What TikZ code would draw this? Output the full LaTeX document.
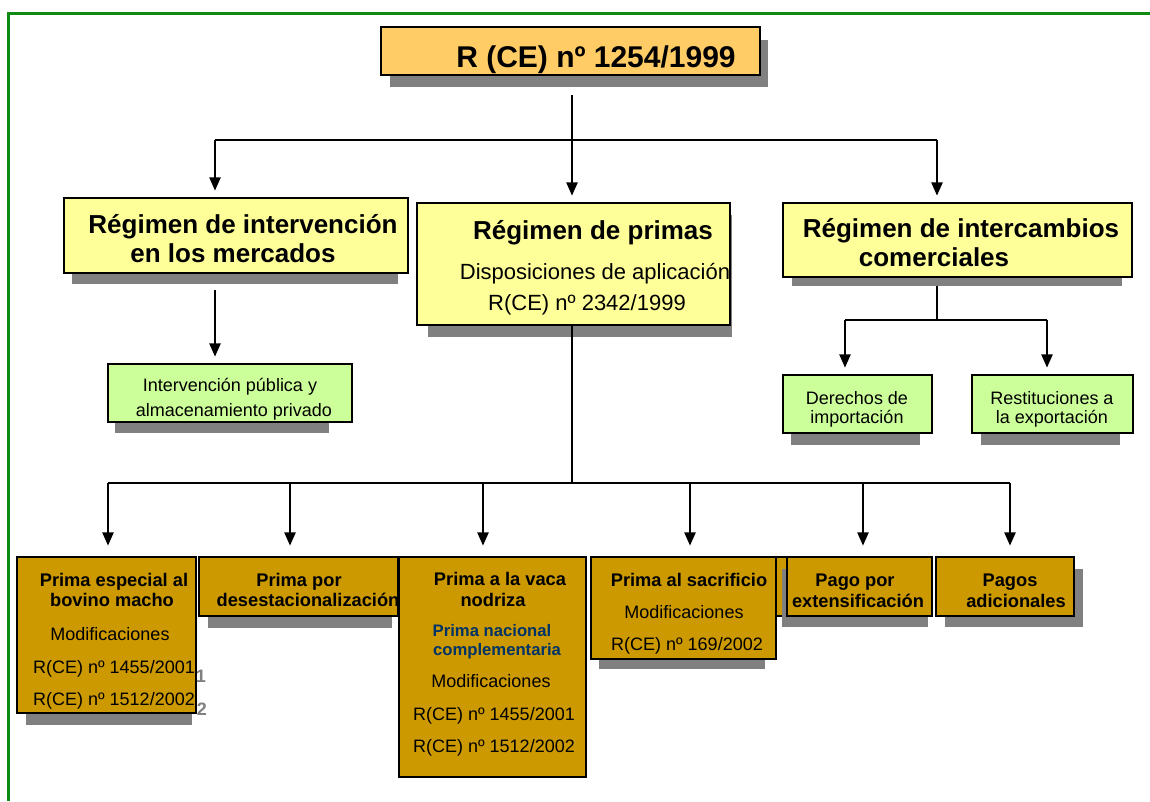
\documentclass[tikz,border=0pt]{standalone}
\usepackage{fontspec}
\setmainfont{Liberation Sans}
\usetikzlibrary{arrows.meta,fit}
\definecolor{cTop}{HTML}{FFCC66}
\definecolor{cYel}{HTML}{FFFF99}
\definecolor{cGrn}{HTML}{CCFF99}
\definecolor{cGold}{HTML}{CC9900}
\definecolor{cShd}{HTML}{808080}
\definecolor{cNavy}{HTML}{003366}
\definecolor{cFrame}{HTML}{108A10}
\newcommand{\gbox}[6]{\node[boxst, fill=#6, fit={(#2,#3) (#4,#5)}] (#1) {};}
\newcommand{\gshd}[4]{\fill[cShd] (#1,#2) rectangle (#3,#4);}
\begin{document}
\begin{tikzpicture}[x=0.75pt,y=-0.75pt,
  boxst/.style={draw=black, line width=1.1pt, inner sep=0pt},
  conn/.style={line width=1.3pt},
  arr/.style={line width=1.3pt, -{Triangle[length=10pt,width=8.5pt]}, shorten >=5pt},
  arrb/.style={arr, shorten >=8pt},
  ttl/.style={anchor=base, inner sep=0pt, font=\fontsize{22.5}{27}\selectfont\bfseries},
  hd/.style={anchor=base, inner sep=0pt, font=\fontsize{19.5}{23}\selectfont\bfseries},
  sb/.style={anchor=base, inner sep=0pt, font=\fontsize{16.5}{20}\selectfont},
  gt/.style={anchor=base, inner sep=0pt, font=\fontsize{13.5}{16}\selectfont},
  bb/.style={anchor=base, inner sep=0pt, font=\fontsize{13.7}{16}\selectfont\bfseries},
  bn/.style={anchor=base, inner sep=0pt, font=\fontsize{13.5}{16}\selectfont},
  bl/.style={anchor=base, inner sep=0pt, text=cNavy, font=\fontsize{12.5}{15}\selectfont\bfseries},
  fn/.style={anchor=base, inner sep=0pt, text=cShd, font=\fontsize{13.5}{16}\selectfont\bfseries}
]
\useasboundingbox (0,0) rectangle (1150,801);
\fill[white] (0,0) rectangle (1150,801);
% frame
\draw[cFrame, line width=1.9pt] (8.5,801) -- (8.5,13.5) -- (1150,13.5);

% top box
\gshd{390}{40}{768}{87}
\gbox{top}{381}{27}{760}{75}{cTop}
\node[ttl] (tt) at (596,67) {R (CE) nº 1254/1999};

% second level
\gshd{72}{208}{398}{284}
\gbox{iv}{64}{198}{408}{273}{cYel}
\node[hd] (iv1) at (243,233) {Régimen de intervención};
\node[hd] (iv2) at (233,262) {en los mercados};

\gshd{428}{215}{732}{337}
\gbox{pr}{417}{203}{730}{325}{cYel}
\node[hd] (pr1) at (593,239) {Régimen de primas};
\node[sb] (pr2) at (595,279) {Disposiciones de aplicación};
\node[sb] (pr3) at (587,310) {R(CE) nº 2342/1999};

\gshd{792}{215}{1122}{286}
\gbox{ic}{783}{203}{1132}{277}{cYel}
\node[hd] (ic1) at (961,237) {Régimen de intercambios};
\node[hd] (ic2) at (934,266) {comerciales};

% third level
\gshd{115}{375}{329}{433}
\gbox{ip}{108}{364}{352}{422}{cGrn}
\node[gt] (ip1) at (230,391) {Intervención pública y};
\node[gt] (ip2) at (234,416) {almacenamiento privado};

\gshd{791}{387}{920}{445}
\gbox{de}{783}{375}{932}{433}{cGrn}
\node[gt] (de1) at (857,404) {Derechos de};
\node[gt] (de2) at (857,423) {importación};

\gshd{981}{387}{1120}{445}
\gbox{re}{972}{375}{1133}{433}{cGrn}
\node[gt] (re1) at (1052,404) {Restituciones a};
\node[gt] (re2) at (1052,423) {la exportación};

% bottom row
\gshd{26}{570}{192}{725}
\gbox{pe}{17}{557}{196}{713}{cGold}
\node[bb] (pe1) at (114,586) {Prima especial al};
\node[bb] (pe2) at (112,606) {bovino macho};
\node[bn] (pe3) at (110,640) {Modificaciones};
\node[bn] (pe4) at (114,673) {R(CE) nº 1455/2001};
\node[bn] (pe5) at (114,705) {R(CE) nº 1512/2002};
\node[fn] (fn1) at (201,682) {1};
\node[fn] (fn2) at (202,715) {2};

\gshd{208}{570}{392}{628}
\gbox{pd}{199}{557}{398}{616}{cGold}
\node[bb] (pd1) at (299,586) {Prima por};
\node[bb] (pd2) at (308,606) {desestacionalización};

\gbox{pv}{399}{557}{586}{777}{cGold}
\node[bb] (pv1) at (500,585) {Prima a la vaca};
\node[bb] (pv2) at (493,606) {nodriza};
\node[bl] (pv3) at (492,636) {Prima nacional};
\node[bl] (pv4) at (497,655) {complementaria};
\node[bn] (pv5) at (491,687) {Modificaciones};
\node[bn] (pv6) at (494,720) {R(CE) nº 1455/2001};
\node[bn] (pv7) at (494,752) {R(CE) nº 1512/2002};

\filldraw[fill=cGold, draw=black, line width=1.1pt] (768,557) rectangle (792,616);
\gshd{599}{570}{765}{669}
\gbox{ps}{591}{557}{776}{659}{cGold}
\node[bb] (ps1) at (689,586) {Prima al sacrificio};
\node[bn] (ps2) at (684,618) {Modificaciones};
\node[bn] (ps3) at (687,650) {R(CE) nº 169/2002};

\gshd{782}{569}{928}{627}
\gbox{pg}{787}{557}{932}{616}{cGold}
\node[bb] (pg1) at (855,586) {Pago por};
\node[bb] (pg2) at (858,607) {extensificación};

\gshd{945}{569}{1083}{627}
\gbox{pa}{936}{557}{1074}{616}{cGold}
\node[bb] (pa1) at (1010,586) {Pagos};
\node[bb] (pa2) at (1016,607) {adicionales};

% connectors
\coordinate (t0) at (572,95);
\coordinate (jA) at (215,140);
\coordinate (jB) at (572,140);
\coordinate (jC) at (937,140);
\draw[conn] (t0) -- (jB);
\draw[conn] (jA) -- (jC);
\draw[arr] (jA) -- (jA |- iv.north);
\draw[arr] (jB) -- (jB |- pr.north);
\draw[arr] (jC) -- (jC |- ic.north);

\coordinate (iv0) at (215,290);
\draw[arr] (iv0) -- (iv0 |- ip.north);

\coordinate (ic0) at (937,286);
\coordinate (icj) at (937,320);
\coordinate (icL) at (845,320);
\coordinate (icR) at (1047,320);
\draw[conn] (ic0) -- (icj);
\draw[conn] (icL) -- (icR);
\draw[arr] (icL) -- (icL |- de.north);
\draw[arr] (icR) -- (icR |- re.north);

\coordinate (pj) at (572,483);
\coordinate (b1) at (108,483);
\coordinate (b2) at (290,483);
\coordinate (b3) at (483,483);
\coordinate (b4) at (690,483);
\coordinate (b5) at (863,483);
\coordinate (b6) at (1010,483);
\draw[conn] (pr.south -| pj) -- (pj);
\draw[conn] (b1) -- (b6);
\draw[arrb] (b1) -- (b1 |- pe.north);
\draw[arrb] (b2) -- (b2 |- pd.north);
\draw[arrb] (b3) -- (b3 |- pv.north);
\draw[arrb] (b4) -- (b4 |- ps.north);
\draw[arrb] (b5) -- (b5 |- pg.north);
\draw[arrb] (b6) -- (b6 |- pa.north);
\end{tikzpicture}
\end{document}
